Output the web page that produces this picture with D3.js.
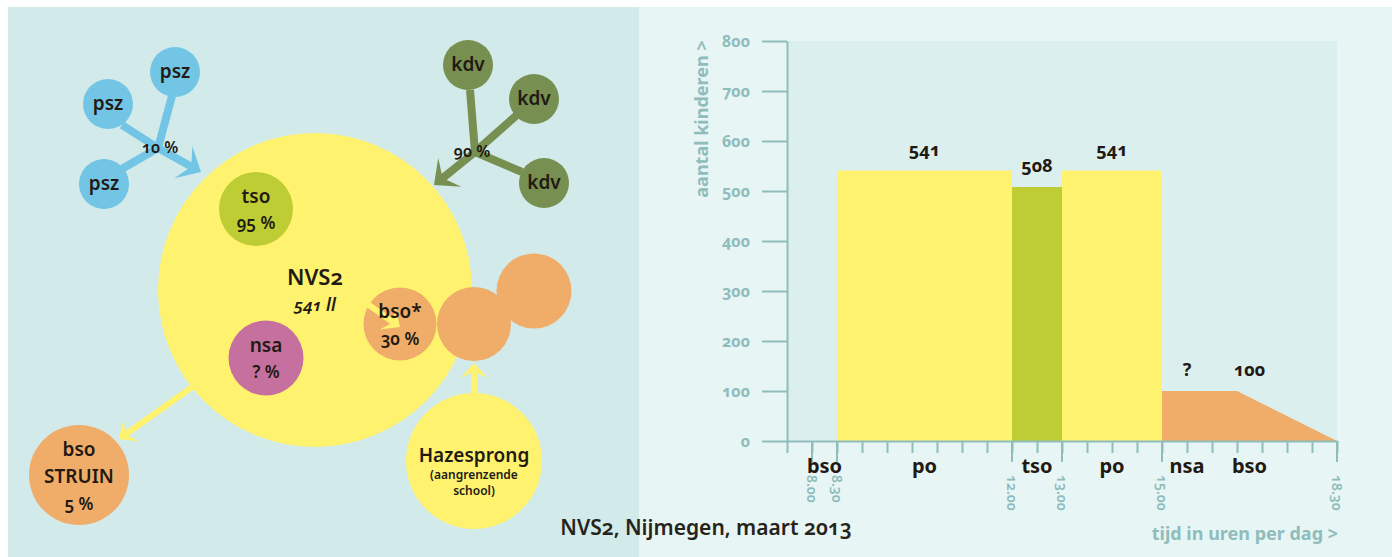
<!DOCTYPE html>
<html>
<head>
<meta charset="utf-8">
<script src="https://cdn.jsdelivr.net/npm/d3@7"></script>
<style>
  body { margin: 0; background: #fff; }
  svg { display: block; font-family: "Noto Sans", "Open Sans", sans-serif; }
  text { font-feature-settings: "onum" 1; }
</style>
</head>
<body>
<svg width="1392" height="557"></svg>
<script>
// ---- chart data ----
var yTicks = [0, 100, 200, 300, 400, 500, 600, 700, 800];
var timeTicks = [7.5, 8, 8.5, 9, 9.5, 10, 10.5, 11, 11.5, 12, 12.5, 13, 13.5, 14, 14.5, 15, 15.5, 16, 16.5, 17, 17.5, 18, 18.5];
var timeLabelTicks = [8, 8.5, 12, 13, 15, 18.5];
var timeLabels = ["8.00", "8.30", "12.00", "13.00", "15.00", "18.30"];

var barFrom = [8.5, 12, 13];
var barTo = [12, 13, 15];
var barValues = [541, 508, 541];
var barColors = ["#fef26f", "#bdcd33", "#fef26f"];

var bsoTimes = [15, 16.5, 18.5];
var bsoValues = [100, 100, 0];

var valueLabels = ["541", "508", "541", "?", "100"];
var valueTimes = [10.25, 12.5, 14, 15.5, 16.75];
var valueLevels = [541, 508, 541, 100, 100];

var catLabels = ["bso", "po", "tso", "po", "nsa", "bso"];
var catTimes = [8.25, 10.25, 12.5, 14, 15.5, 16.75];

// ---- diagram data ----
var nodeNames = ["NVS2", "tso", "nsa", "bso*", "bso2", "bso3", "Hazesprong", "bso STRUIN", "psz1", "psz2", "psz3", "kdv1", "kdv2", "kdv3"];
var nodeLines = [
  ["NVS2"], ["tso", "95 %"], ["nsa", "? %"], ["bso*", "30 %"], [], [], ["Hazesprong"], ["bso", "STRUIN", "5 %"],
  ["psz"], ["psz"], ["psz"], ["kdv"], ["kdv"], ["kdv"]
];
var nodeKinds = ["school", "tso", "nsa", "bso", "bso", "bso", "school", "bso", "psz", "psz", "psz", "kdv", "kdv", "kdv"];

var teal = "#8ebdbc";
var dark = "#221a12";
var kindColor = { school: "#fef26f", tso: "#bdcd33", nsa: "#c6709f", bso: "#efad69", psz: "#72c5e5", kdv: "#778f50" };

var svg = d3.select("svg");

// panels
svg.append("rect").attr("x", 8).attr("y", 7).attr("width", 631).attr("height", 550).attr("fill", "#d2eaea");
svg.append("rect").attr("x", 639).attr("y", 7).attr("width", 753).attr("height", 550).attr("fill", "#e8f5f5");

// ---------------- right: bar chart ----------------
var x = d3.scaleLinear().domain([7.5, 18.5]).range([787, 1337]);
var y = d3.scaleLinear().domain([0, 800]).range([441, 41]);

svg.append("rect")
    .attr("x", x(7.5)).attr("y", y(800))
    .attr("width", x(18.5) - x(7.5)).attr("height", y(0) - y(800))
    .attr("fill", "#dcefef");

svg.append("g").selectAll("rect")
  .data(barValues)
  .enter().append("rect")
    .attr("x", function(d, i) { return x(barFrom[i]); })
    .attr("y", function(d) { return y(d); })
    .attr("width", function(d, i) { return x(barTo[i]) - x(barFrom[i]); })
    .attr("height", function(d) { return y(0) - y(d); })
    .attr("fill", function(d, i) { return barColors[i]; });

var area = d3.area()
    .x(function(d, i) { return x(bsoTimes[i]); })
    .y0(y(0))
    .y1(function(d) { return y(d); });

svg.append("path").datum(bsoValues).attr("d", area).attr("fill", "#efad69");

// y axis
var yAxis = svg.append("g")
    .attr("transform", "translate(" + x(7.5) + ",0)")
    .call(d3.axisLeft(y).tickValues(yTicks).tickSize(25).tickSizeOuter(0).tickPadding(12));
yAxis.select(".domain").attr("stroke", teal).attr("stroke-width", 2);
yAxis.selectAll(".tick line").attr("stroke", teal).attr("stroke-width", 2);
yAxis.selectAll(".tick text")
    .attr("fill", teal).attr("font-size", 16).attr("font-weight", 700)
    .attr("font-family", "Noto Sans");

// x axis
var xAxis = svg.append("g")
    .attr("transform", "translate(0," + y(0) + ")")
    .call(d3.axisBottom(x).tickValues(timeTicks).tickSize(12).tickSizeOuter(0).tickFormat(""));
xAxis.select(".domain").attr("stroke", teal).attr("stroke-width", 2);
xAxis.selectAll(".tick line").attr("stroke", teal).attr("stroke-width", 2);

xAxis.selectAll(".long")
  .data(timeLabelTicks)
  .enter().append("line")
    .attr("class", "long")
    .attr("x1", function(d) { return x(d); }).attr("x2", function(d) { return x(d); })
    .attr("y1", 0).attr("y2", 21)
    .attr("stroke", teal).attr("stroke-width", 2);

svg.append("g").selectAll("text")
  .data(timeLabels)
  .enter().append("text")
    .attr("transform", function(d, i) { return "translate(" + x(timeLabelTicks[i]) + ",475) rotate(90)"; })
    .attr("dy", "0.35em")
    .attr("fill", teal).attr("font-size", 14).attr("font-weight", 600)
    .text(function(d) { return d; });

// category labels under the axis
svg.append("g").selectAll("text")
  .data(catLabels)
  .enter().append("text")
    .attr("x", function(d, i) { return x(catTimes[i]); })
    .attr("y", 473)
    .attr("text-anchor", "middle")
    .attr("fill", dark).attr("font-size", 20).attr("font-weight", 700)
    .text(function(d) { return d; });

// value labels
svg.append("g").selectAll("text")
  .data(valueLabels)
  .enter().append("text")
    .attr("x", function(d, i) { return x(valueTimes[i]); })
    .attr("y", function(d, i) { return y(valueLevels[i]) - 15; })
    .attr("text-anchor", "middle")
    .attr("fill", dark).attr("font-size", 18).attr("font-weight", 700)
    .text(function(d) { return d; });

// axis titles
svg.append("text")
    .attr("transform", "translate(708,119) rotate(-90)")
    .attr("text-anchor", "middle")
    .attr("fill", teal).attr("font-size", 18).attr("font-weight", 700)
    .text("aantal kinderen >");

svg.append("text")
    .attr("x", 1338).attr("y", 540)
    .attr("text-anchor", "end")
    .attr("fill", teal).attr("font-size", 18).attr("font-weight", 700)
    .text("tijd in uren per dag >");

// ---------------- left: diagram ----------------
var nodeX = [315, 256, 266, 400, 474, 534, 474, 79, 175, 108, 104, 468, 534, 544];
var nodeY = [290, 209, 358, 324, 324, 291, 461, 475, 72, 104, 184, 65, 99, 183];
var nodeR = [157, 37, 37.5, 36.5, 37, 37.5, 68, 50, 25, 25, 25, 25, 25, 25];

// links: [fromX, fromY, toX, toY, colour, width, head]
var links = [
  [172, 96, 158, 148, "psz", 8, false],
  [122, 125, 158, 148, "psz", 8, false],
  [120, 170, 158, 148, "psz", 8, false],
  [158, 148, 201, 172, "psz", 8, true],
  [470, 90, 475, 152, "kdv", 8, false],
  [518, 114, 475, 152, "kdv", 8, false],
  [522, 172, 475, 152, "kdv", 8, false],
  [475, 152, 434, 185, "kdv", 8, true],
  [195, 385, 119, 439, "school", 6, true],
  [474, 394, 474, 363, "school", 6, true],
  [366, 303, 400, 327, "school", 6, true]
];

function headPoints(l) {
  var dx = l[2] - l[0], dy = l[3] - l[1];
  var len = Math.sqrt(dx * dx + dy * dy);
  var ux = dx / len, uy = dy / len;
  var px = -uy, py = ux;
  var s = l[5] * 2.3;
  var tip = [l[2], l[3]];
  var back = [l[2] - ux * s * 1.1, l[3] - uy * s * 1.1];
  var notch = [l[2] - ux * s * 0.6, l[3] - uy * s * 0.6];
  return [tip,
    [back[0] + px * s, back[1] + py * s],
    notch,
    [back[0] - px * s, back[1] - py * s]];
}

var diagram = svg.append("g");

// big school circle first, arrows over it, then the rest
diagram.append("circle")
    .attr("cx", nodeX[0]).attr("cy", nodeY[0]).attr("r", nodeR[0])
    .attr("fill", kindColor.school);

diagram.selectAll(".link")
  .data(links)
  .enter().append("line")
    .attr("class", "link")
    .attr("x1", function(d) { return d[0]; }).attr("y1", function(d) { return d[1]; })
    .attr("x2", function(d) { var h = headPoints(d); return d[6] ? h[2][0] : d[2]; })
    .attr("y2", function(d) { var h = headPoints(d); return d[6] ? h[2][1] : d[3]; })
    .attr("stroke", function(d) { return kindColor[d[4]]; })
    .attr("stroke-width", function(d) { return d[5]; });

var others = d3.range(1, nodeNames.length);

diagram.selectAll(".node")
  .data(others.filter(function(i) { return i !== 3; }))
  .enter().append("circle")
    .attr("class", "node")
    .attr("cx", function(i) { return nodeX[i]; })
    .attr("cy", function(i) { return nodeY[i]; })
    .attr("r", function(i) { return nodeR[i]; })
    .attr("fill", function(i) { return kindColor[nodeKinds[i]]; });

// bso* circle sits under the little yellow arrow
diagram.insert("circle", ".link")
    .attr("cx", nodeX[3]).attr("cy", nodeY[3]).attr("r", nodeR[3])
    .attr("fill", kindColor.bso);

diagram.selectAll(".head")
  .data(links.filter(function(d) { return d[6]; }))
  .enter().append("polygon")
    .attr("class", "head")
    .attr("points", function(d) { return headPoints(d).join(" "); })
    .attr("fill", function(d) { return kindColor[d[4]]; });

// node labels
var labelTop = { tso: 203, nsa: 352, "bso*": 318, "bso STRUIN": 456, psz1: 78, psz2: 110, psz3: 190, kdv1: 71, kdv2: 105, kdv3: 189 };
var lineGap = { tso: 26, nsa: 26, "bso*": 27, "bso STRUIN": 27 };

others.forEach(function(i) {
  var name = nodeNames[i];
  if (labelTop[name] === undefined) return;
  var t = diagram.append("text")
      .attr("text-anchor", "middle")
      .attr("fill", dark).attr("font-weight", 600);
  nodeLines[i].forEach(function(s, j) {
    t.append("tspan")
        .attr("x", nodeX[i])
        .attr("y", labelTop[name] + j * (lineGap[name] || 0))
        .attr("font-size", (j === 0 || name === "bso STRUIN" && j === 1) ? 19 : 17)
        .text(s);
  });
});

// school texts
diagram.append("text")
    .attr("x", 315).attr("y", 285)
    .attr("text-anchor", "middle").attr("fill", dark)
    .attr("font-size", 22).attr("font-weight", 600)
    .text("NVS2");
diagram.append("text")
    .attr("x", 315).attr("y", 311)
    .attr("text-anchor", "middle").attr("fill", dark)
    .attr("font-size", 17).attr("font-weight", 600).attr("font-style", "italic")
    .text("541 ll");

diagram.append("text")
    .attr("x", 474).attr("y", 462)
    .attr("text-anchor", "middle").attr("fill", dark)
    .attr("font-size", 19).attr("font-weight", 600)
    .text("Hazesprong");
diagram.append("text")
    .attr("x", 474).attr("y", 479)
    .attr("text-anchor", "middle").attr("fill", dark)
    .attr("font-size", 12).attr("font-weight", 600)
    .text("(aangrenzende");
diagram.append("text")
    .attr("x", 474).attr("y", 495)
    .attr("text-anchor", "middle").attr("fill", dark)
    .attr("font-size", 12).attr("font-weight", 600)
    .text("school)");

// percentages at the hubs
diagram.append("text")
    .attr("x", 160).attr("y", 153)
    .attr("text-anchor", "middle").attr("fill", dark)
    .attr("font-size", 16).attr("font-weight", 600)
    .text("10 %");
diagram.append("text")
    .attr("x", 472).attr("y", 157)
    .attr("text-anchor", "middle").attr("fill", dark)
    .attr("font-size", 16).attr("font-weight", 600)
    .text("90 %");

// title
svg.append("text")
    .attr("x", 706).attr("y", 535)
    .attr("text-anchor", "middle").attr("fill", "#26241a")
    .attr("font-size", 21).attr("font-weight", 600)
    .text("NVS2, Nijmegen, maart 2013");
</script>
</body>
</html>
